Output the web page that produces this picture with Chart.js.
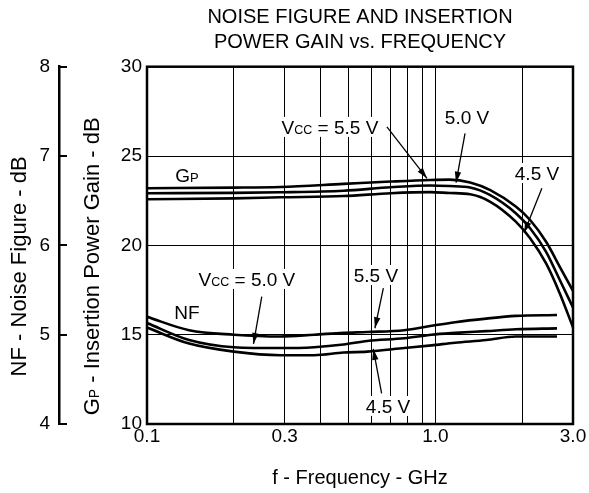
<!DOCTYPE html>
<html>
<head>
<meta charset="utf-8">
<script src="https://cdn.jsdelivr.net/npm/chart.js@4.4.0/dist/chart.umd.min.js"></script>
<style>
  html, body { margin: 0; padding: 0; background: #fff; }
</style>
</head>
<body>
<canvas id="chart" width="589" height="493"></canvas>
<script>
// --- data (GHz / dB) ---
const titleLines = ['NOISE FIGURE AND INSERTION', 'POWER GAIN vs. FREQUENCY'];
const xTitle = 'f - Frequency - GHz';
const nfTitle = 'NF - Noise Figure - dB';

const xGridValues = [0.1, 0.2, 0.3, 0.4, 0.5, 0.6, 0.7, 0.8, 0.9, 1, 2, 3];
const xTickValues = [0.1, 0.3, 1, 3];
const xTickLabels = ['0.1', '0.3', '1.0', '3.0'];
const gpTicks = [10, 15, 20, 25, 30];
const nfTicks = [4, 5, 6, 7, 8];

// insertion power gain, Vcc = 5.5 / 5.0 / 4.5 V
const gpFreq = [0.1, 0.2, 0.29, 0.48, 0.7, 0.96, 1.12, 1.32, 1.55, 1.9, 2.13, 2.42, 2.7, 3.0];
const gp55 = [23.20, 23.23, 23.27, 23.44, 23.57, 23.66, 23.68, 23.52, 23.09, 22.17, 21.42, 20.20, 18.80, 17.45];
const gp50 = [22.92, 22.94, 22.97, 23.06, 23.25, 23.35, 23.32, 23.24, 22.81, 21.80, 20.96, 19.64, 18.06, 16.52];
const gp45 = [22.58, 22.63, 22.69, 22.76, 22.92, 22.98, 22.93, 22.86, 22.44, 21.33, 20.40, 18.99, 17.31, 15.41];

// noise figure, Vcc = 5.5 / 5.0 / 4.5 V
const nfFreq = [0.1, 0.14, 0.2, 0.29, 0.38, 0.48, 0.58, 0.78, 0.97, 1.17, 1.5, 1.9, 2.64];
const nf55 = [5.20, 5.05, 5.00, 4.98, 5.00, 5.02, 5.03, 5.05, 5.10, 5.14, 5.18, 5.21, 5.22];
const nf50 = [5.13, 4.94, 4.86, 4.85, 4.86, 4.89, 4.93, 4.96, 5.00, 5.02, 5.04, 5.06, 5.07];
const nf45 = [5.08, 4.90, 4.81, 4.77, 4.77, 4.80, 4.81, 4.85, 4.88, 4.91, 4.94, 4.98, 4.98];

// callouts, anchored in (GHz, Gp dB)
const notes = [
  { parts: [['G', 19], ['P', 13]], f: 0.1376, v: 23.94 },
  { parts: [['V', 19], ['CC', 12.5], [' = 5.5 V', 19]], f: 0.431, v: 26.63 },
  { parts: [['5.0 V', 19]], f: 1.287, v: 27.19 },
  { parts: [['4.5 V', 19]], f: 2.25, v: 24.05 },
  { parts: [['NF', 19]], f: 0.1376, v: 16.27 },
  { parts: [['V', 19], ['CC', 12.5], [' = 5.0 V', 19]], f: 0.222, v: 18.12 },
  { parts: [['5.5 V', 19]], f: 0.622, v: 18.34 },
  { parts: [['4.5 V', 19]], f: 0.685, v: 11.01 }
];
const arrows = [
  { from: [0.679, 26.63], to: [0.935, 23.75] },
  { from: [1.267, 26.27], to: [1.179, 23.51] },
  { from: [2.34, 23.20], to: [2.03, 20.71] },
  { from: [0.250, 17.13], to: [0.234, 14.48] },
  { from: [0.660, 17.60], to: [0.617, 15.36] },
  { from: [0.651, 11.72], to: [0.609, 14.20] }
];

const FONT = "'Liberation Sans', Arial, Helvetica, sans-serif";
Chart.defaults.font.family = FONT;
Chart.defaults.color = '#000';

const series = function(xs, ys, axis) {
  return {
    data: xs.map((f, i) => ({ x: f, y: ys[i] })),
    yAxisID: axis,
    borderColor: '#000',
    borderWidth: 2.6,
    pointRadius: 0,
    fill: false,
    cubicInterpolationMode: 'monotone'
  };
};

const partsWidth = function(ctx, parts) {
  let w = 0;
  parts.forEach(p => { ctx.font = p[1] + 'px ' + FONT; w += ctx.measureText(p[0]).width; });
  return w;
};
const drawParts = function(ctx, parts, x, baseline) {
  parts.forEach(p => {
    ctx.font = p[1] + 'px ' + FONT;
    ctx.fillText(p[0], x, baseline);
    x += ctx.measureText(p[0]).width;
  });
};
const drawArrow = function(ctx, x1, y1, x2, y2) {
  ctx.beginPath();
  ctx.moveTo(x1, y1);
  ctx.lineTo(x2, y2);
  ctx.lineWidth = 1.3;
  ctx.stroke();
  const a = Math.atan2(y2 - y1, x2 - x1), L = 11, W = 3.2;
  ctx.beginPath();
  ctx.moveTo(x2, y2);
  ctx.lineTo(x2 - L * Math.cos(a) + W * Math.sin(a), y2 - L * Math.sin(a) - W * Math.cos(a));
  ctx.lineTo(x2 - L * Math.cos(a) - W * Math.sin(a), y2 - L * Math.sin(a) + W * Math.cos(a));
  ctx.closePath();
  ctx.fill();
};

const callouts = {
  id: 'callouts',
  beforeDatasetsDraw(chart) {
    const ctx = chart.ctx, xs = chart.scales.x, ys = chart.scales.y;
    ctx.save();
    ctx.textBaseline = 'alphabetic';
    ctx.fillStyle = '#000';
    ctx.strokeStyle = '#000';
    notes.forEach(n => {
      const w = partsWidth(ctx, n.parts);
      const cx = xs.getPixelForValue(n.f), cy = ys.getPixelForValue(n.v);
      ctx.fillStyle = '#fff';
      ctx.fillRect(cx - w / 2 - 2, cy - 10, w + 4, 20);
      ctx.fillStyle = '#000';
      drawParts(ctx, n.parts, cx - w / 2, cy + 7);
    });
    arrows.forEach(a => {
      drawArrow(ctx, xs.getPixelForValue(a.from[0]), ys.getPixelForValue(a.from[1]),
        xs.getPixelForValue(a.to[0]), ys.getPixelForValue(a.to[1]));
    });
    ctx.restore();
  },
  afterDraw(chart) {
    const ctx = chart.ctx, area = chart.chartArea;
    const nf = chart.scales.yNF, gp = chart.scales.y;
    ctx.save();
    // plot frame
    ctx.strokeStyle = '#000';
    ctx.lineWidth = 2.5;
    ctx.strokeRect(area.left, area.top, area.right - area.left, area.bottom - area.top);
    // rotated axis titles
    const midY = (area.top + area.bottom) / 2 + 21;
    ctx.fillStyle = '#000';
    ctx.textBaseline = 'alphabetic';
    ctx.translate(nf.left + 17.5, midY);
    ctx.rotate(-Math.PI / 2);
    const p1 = [[nfTitle, 22]];
    drawParts(ctx, p1, -partsWidth(ctx, p1) / 2, 8);
    ctx.setTransform(1, 0, 0, 1, 0, 0);
    ctx.translate(gp.left + 32, midY);
    ctx.rotate(-Math.PI / 2);
    const p2 = [['G', 22], ['P', 14], [' - Insertion Power Gain - dB', 22]];
    drawParts(ctx, p2, -partsWidth(ctx, p2) / 2, 8);
    ctx.restore();
  }
};

new Chart(document.getElementById('chart'), {
  type: 'line',
  data: {
    datasets: [
      series(gpFreq, gp55, 'y'),
      series(gpFreq, gp50, 'y'),
      series(gpFreq, gp45, 'y'),
      series(nfFreq, nf55, 'yNF'),
      series(nfFreq, nf50, 'yNF'),
      series(nfFreq, nf45, 'yNF')
    ]
  },
  options: {
    responsive: false,
    animation: false,
    layout: { padding: { top: 0, left: 0, right: 16, bottom: 0 } },
    plugins: {
      legend: { display: false },
      tooltip: { enabled: false },
      title: {
        display: true,
        text: titleLines,
        fullSize: false,
        color: '#000',
        font: { size: 20, weight: 'normal', lineHeight: 1.25 },
        padding: { top: 4.5, bottom: 12.2 }
      }
    },
    scales: {
      x: {
        type: 'logarithmic',
        min: 0.1,
        max: 3,
        afterBuildTicks: s => { s.ticks = xGridValues.map(v => ({ value: v })); },
        ticks: {
          autoSkip: false,
          maxRotation: 0,
          padding: 1,
          font: { size: 19 },
          callback: v => { const i = xTickValues.indexOf(v); return i < 0 ? '' : xTickLabels[i]; }
        },
        grid: { color: '#000', lineWidth: 1, drawTicks: false },
        border: { display: false },
        title: { display: true, text: xTitle, font: { size: 20 }, padding: { top: 0, bottom: 3 } },
        afterFit: s => { s.height = 69; }
      },
      y: {
        type: 'linear',
        position: 'left',
        weight: 0,
        min: 10,
        max: 30,
        afterBuildTicks: s => { s.ticks = gpTicks.map(v => ({ value: v })); },
        ticks: { padding: 5, font: { size: 19 } },
        grid: { color: '#000', lineWidth: 1, drawTicks: false },
        border: { display: false },
        afterFit: s => { s.width = 88; }
      },
      yNF: {
        type: 'linear',
        position: 'left',
        weight: 1,
        min: 4,
        max: 8,
        afterBuildTicks: s => { s.ticks = nfTicks.map(v => ({ value: v })); },
        ticks: { padding: 17, font: { size: 19 } },
        grid: { drawOnChartArea: false, tickLength: -8, lineWidth: 2, color: '#000' },
        border: { display: true, color: '#000', width: 2.5 },
        afterFit: s => { s.width = 59; }
      }
    }
  },
  plugins: [callouts]
});
</script>
</body>
</html>
